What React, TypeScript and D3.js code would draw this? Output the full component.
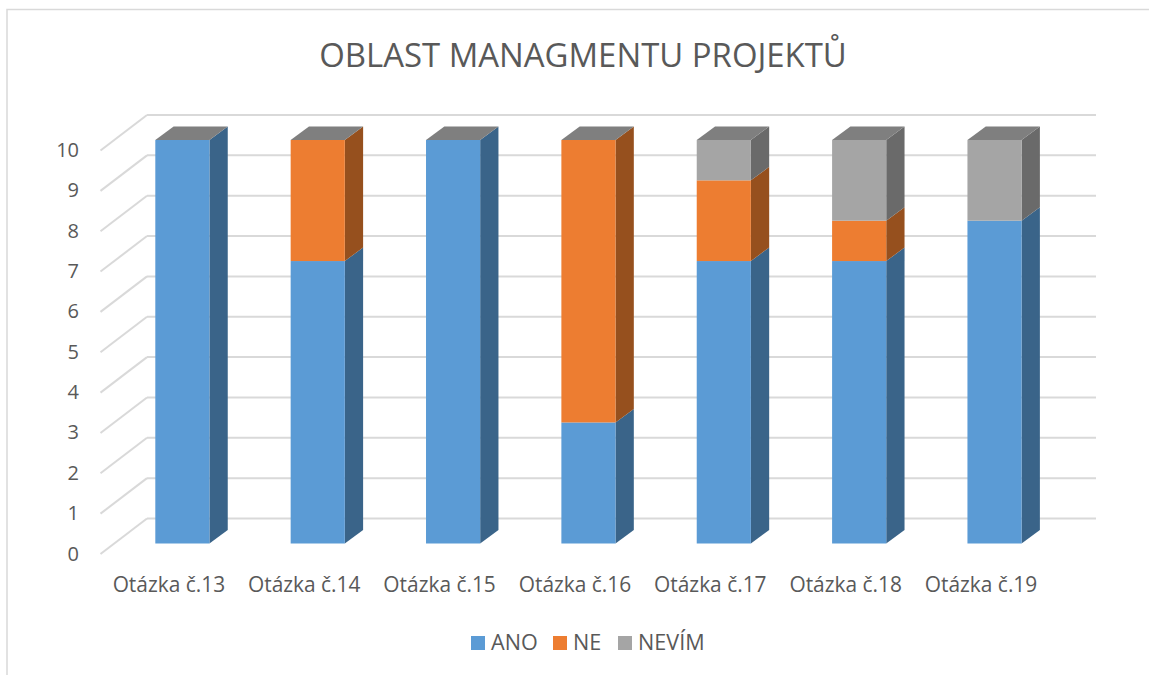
import React from "react";
import * as d3 from "d3";

const categories = ["Otázka č.13", "Otázka č.14", "Otázka č.15", "Otázka č.16", "Otázka č.17", "Otázka č.18", "Otázka č.19"];
const ano = [10, 7, 10, 3, 7, 7, 8];
const ne = [0, 3, 0, 7, 2, 1, 0];
const nevim = [0, 0, 0, 0, 1, 2, 2];
const seriesNames = ["ANO", "NE", "NEVÍM"];
const yTicks = [0, 1, 2, 3, 4, 5, 6, 7, 8, 9, 10];
const colors = ["#5B9BD5", "#ED7D31", "#A5A5A5"];
const sideColors = ["#3A6489", "#96501E", "#6A6A6A"];
const topColor = "#7F7F7F";
const FONT = "'Open Sans', sans-serif";
const TEXT = "#595959";
const GRID = "#D9D9D9";

const W = 1149, H = 675;
const DX = 18.3, DY = -13.5;

export default function App() {
  const x = d3.scaleBand().domain(categories).range([114.7, 1062.2]).paddingInner(0.6).paddingOuter(0.3);
  const y = d3.scaleLinear().domain([0, 10]).range([543.5, 140]);
  const stacked = d3.stack().keys(["0", "1", "2"])(categories.map((_, i) => ({ 0: ano[i], 1: ne[i], 2: nevim[i] })) as any);
  const bw = x.bandwidth();
  const legendX = [471, 553, 618];
  return (
    <svg width={W} height={H} viewBox={`0 0 ${W} ${H}`} style={{ position: "absolute", left: 0, top: 0, background: "#fff" }}>
      <path d={`M7,${H}V9.5H${W}`} fill="none" stroke={GRID} strokeWidth={1.5} />
      <text x={583} y={67} textAnchor="middle" fontFamily={FONT} fontSize={32.9} fill={TEXT}>OBLAST MANAGMENTU PROJEKTŮ</text>

      {yTicks.map((t) => {
        const yy = y(t) + 10.5;
        return (
          <g key={t}>
            <path d={`M100.5,${yy}L147,${yy - 35.5}`} fill="none" stroke={GRID} strokeWidth={2} />
            <path d={`M147,${yy - 35.5}H1096`} fill="none" stroke={GRID} strokeWidth={2} />
            <text x={79} y={y(t) + 17} textAnchor="end" fontFamily={FONT} fontSize={20} fill={TEXT}>{t}</text>
          </g>
        );
      })}

      {categories.map((c, i) => {
        const x0 = x(c)!;
        return (
          <g key={c}>
            {stacked.map((s, k) => {
              const [a, b] = s[i];
              if (b - a <= 0) return null;
              const yTop = y(b), yBot = y(a);
              return (
                <g key={k}>
                  <path d={`M${x0 + bw},${yBot}L${x0 + bw + DX},${yBot + DY}V${yTop + DY}L${x0 + bw},${yTop}Z`} fill={sideColors[k]} />
                  <rect x={x0} y={yTop} width={bw} height={yBot - yTop} fill={colors[k]} />
                </g>
              );
            })}
            <path d={`M${x0},${y(10)}L${x0 + DX},${y(10) + DY}H${x0 + bw + DX}L${x0 + bw},${y(10)}Z`} fill={topColor} />
            <text x={x0 + bw / 2 - 13.5} y={592} textAnchor="middle" fontFamily={FONT} fontSize={20.9} fill={TEXT}>{c}</text>
          </g>
        );
      })}

      {seriesNames.map((n, i) => (
        <g key={n}>
          <rect x={legendX[i]} y={636} width={14} height={14} fill={colors[i]} />
          <text x={legendX[i] + 20} y={650} fontFamily={FONT} fontSize={21.6} fill={TEXT}>{n}</text>
        </g>
      ))}
    </svg>
  );
}
